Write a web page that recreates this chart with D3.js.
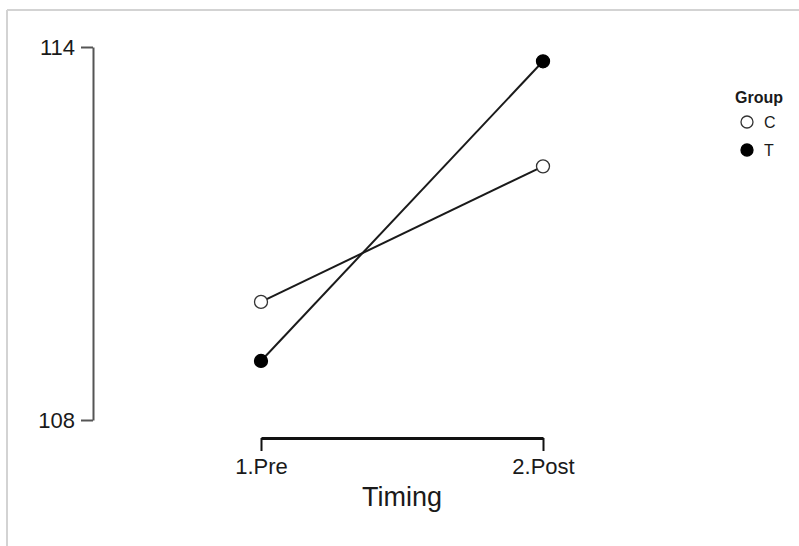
<!DOCTYPE html>
<html>
  <head>
    <title>Interaction Plot</title>
    <style>
      body { margin: 0; background: #fff; }
      text { font-family: Arial, "Liberation Sans", sans-serif; fill: #1a1a1a; }
    </style>
  </head>
  <body>
    <svg width="799" height="546"></svg>
    <script src="https://d3js.org/d3.v7.min.js"></script>
    <script>

    // data
    var timings = ["1.Pre", "2.Post"];
    var groups = ["C", "T"];
    var valuesC = [109.9, 112.08];
    var valuesT = [108.95, 113.77];
    var yTicks = [108, 114];

    var svg = d3.select("svg");

    // light frame (only top and left edges visible)
    svg.append("line").attr("x1", 7).attr("x2", 799).attr("y1", 10).attr("y2", 10)
        .attr("stroke", "#d3d3d3").attr("stroke-width", 2);
    svg.append("line").attr("x1", 7).attr("x2", 7).attr("y1", 10).attr("y2", 546)
        .attr("stroke", "#d3d3d3").attr("stroke-width", 2);

    var x = d3.scalePoint()
        .domain(timings)
        .range([261, 543]);

    var y = d3.scaleLinear()
        .domain([108, 114])
        .range([420, 47]);

    // y axis: bracket-style line with outward ticks at the ends
    var yAxis = svg.append("g")
        .attr("transform", "translate(93,0)")
        .call(d3.axisLeft(y).tickValues(yTicks).tickSize(12).tickSizeOuter(0).tickPadding(6).tickFormat(d3.format("d")));
    yAxis.select(".domain").attr("stroke", "#555").attr("stroke-width", 2);
    yAxis.selectAll(".tick line").attr("stroke", "#555").attr("stroke-width", 2);
    yAxis.selectAll(".tick text").attr("font-size", 22).attr("fill", "#1a1a1a")
        .style("font-family", "Arial, 'Liberation Sans', sans-serif");

    // x axis: bracket with ticks pointing down
    var xAxis = svg.append("g")
        .attr("transform", "translate(0,438)")
        .call(d3.axisBottom(x).tickSize(13).tickSizeOuter(0).tickPadding(7));
    xAxis.select(".domain").attr("stroke", "#111").attr("stroke-width", 3);
    xAxis.selectAll(".tick line").attr("stroke", "#111").attr("stroke-width", 2);
    xAxis.selectAll(".tick text").attr("font-size", 22).attr("fill", "#1a1a1a")
        .style("font-family", "Arial, 'Liberation Sans', sans-serif");

    svg.append("text")
        .attr("x", 402)
        .attr("y", 506)
        .attr("text-anchor", "middle")
        .attr("font-size", 27)
        .text("Timing");

    var series = [
      {name: groups[0], values: valuesC, fill: "#fff"},
      {name: groups[1], values: valuesT, fill: "#000"}
    ];

    var line = d3.line()
        .x(function(d, i) { return x(timings[i]); })
        .y(function(d) { return y(d); });

    series.forEach(function(s) {
      svg.append("path")
          .attr("d", line(s.values))
          .attr("fill", "none")
          .attr("stroke", "#1a1a1a")
          .attr("stroke-width", 2);
    });

    series.forEach(function(s) {
      svg.selectAll(null)
          .data(s.values)
        .enter().append("circle")
          .attr("cx", function(d, i) { return x(timings[i]); })
          .attr("cy", function(d) { return y(d); })
          .attr("r", 6.5)
          .attr("fill", s.fill)
          .attr("stroke", s.fill === "#fff" ? "#333" : "#000")
          .attr("stroke-width", 1.3);
    });

    // legend
    var legend = svg.append("g").attr("transform", "translate(735,0)");
    legend.append("text")
        .attr("x", 0)
        .attr("y", 103)
        .attr("font-size", 16)
        .attr("font-weight", "bold")
        .text("Group");
    var items = legend.selectAll(".item")
        .data(series)
      .enter().append("g")
        .attr("transform", function(d, i) { return "translate(0," + (122 + i * 28) + ")"; });
    items.append("circle")
        .attr("cx", 12)
        .attr("r", 6)
        .attr("fill", function(d) { return d.fill; })
        .attr("stroke", function(d) { return d.fill === "#fff" ? "#333" : "#000"; })
        .attr("stroke-width", 1.3);
    items.append("text")
        .attr("x", 29)
        .attr("dy", "0.36em")
        .attr("font-size", 16)
        .text(function(d) { return d.name; });

    </script>
  </body>
</html>
